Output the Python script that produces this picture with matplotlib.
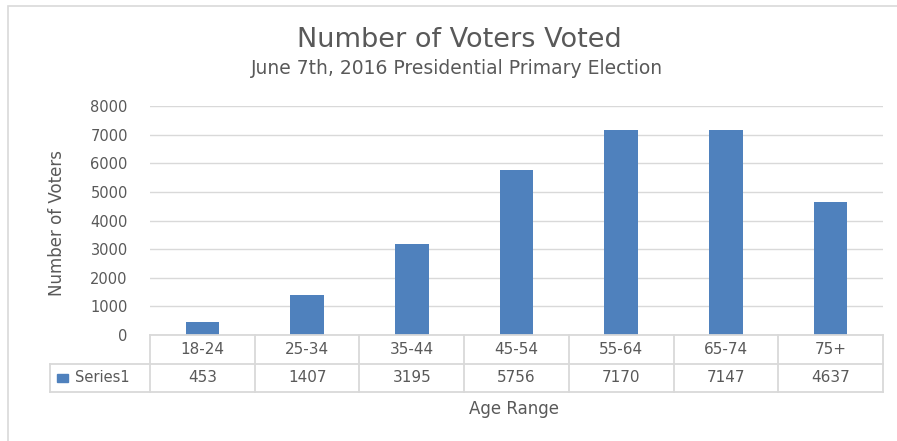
import matplotlib.pyplot as plt
from matplotlib.patches import Rectangle

categories = ['18-24', '25-34', '35-44', '45-54', '55-64', '65-74', '75+']
voters = [453, 1407, 3195, 5756, 7170, 7147, 4637]
yticks = [0, 1000, 2000, 3000, 4000, 5000, 6000, 7000, 8000]
series_name = 'Series1'

W, H = 897, 441
bar_color = '#4F81BD'
grid_color = '#D9D9D9'
text_color = '#595959'

fig = plt.figure(figsize=(W / 100, H / 100), dpi=100)

# chart border
fig.patches.append(Rectangle((8 / W, -0.1), 1.2, 1 - 6 / H + 0.1, transform=fig.transFigure,
                             fill=False, edgecolor=grid_color, lw=1.2))

# plot area in pixel coords
px_left, px_right, px_top, px_bottom = 150, 883, 106, 335
ax = fig.add_axes([px_left / W, 1 - px_bottom / H, (px_right - px_left) / W, (px_bottom - px_top) / H])
x = list(range(len(categories)))
ax.bar(x, voters, width=0.32, color=bar_color, zorder=3)
ax.set_xlim(-0.5, len(categories) - 0.5)
ax.set_ylim(0, 8000)
ax.set_yticks(yticks)
ax.set_yticklabels([str(t) for t in yticks], fontsize=10.5, color=text_color)
ax.tick_params(axis='y', length=0, pad=16)
ax.set_xticks([])
ax.grid(axis='y', color=grid_color, lw=1, zorder=0)
for s in ax.spines.values():
    s.set_visible(False)
ax.set_ylabel('Number of Voters', fontsize=12, color=text_color)
ax.yaxis.set_label_coords((66 - px_left) / (px_right - px_left), 0.49)

# data table
cat_w = (px_right - px_left) / len(categories)
tbl_left, tbl_top, tbl_bottom = 50, 335, 392
tax = fig.add_axes([tbl_left / W, 1 - tbl_bottom / H, (px_right - tbl_left) / W, (tbl_bottom - tbl_top) / H])
x0 = -0.5 - (px_left - tbl_left) / cat_w
tax.set_xlim(x0, len(categories) - 0.5)
tax.set_ylim(0, 2)
tax.axis('off')
lw = 1.3
tax.plot([-0.5, len(categories) - 0.5], [2, 2], color=grid_color, lw=lw, clip_on=False)
tax.plot([x0, len(categories) - 0.5], [1, 1], color=grid_color, lw=lw, clip_on=False)
tax.plot([x0, len(categories) - 0.5], [0, 0], color=grid_color, lw=lw, clip_on=False)
tax.plot([x0, x0], [0, 1], color=grid_color, lw=lw, clip_on=False)
for i in range(len(categories) + 1):
    tax.plot([i - 0.5, i - 0.5], [0, 2], color=grid_color, lw=lw, clip_on=False)
for i, (c, v) in enumerate(zip(categories, voters)):
    tax.text(i, 1.5, c, ha='center', va='center', fontsize=11, color=text_color)
    tax.text(i, 0.5, str(v), ha='center', va='center', fontsize=11, color=text_color)
tax.add_patch(Rectangle((x0 + 0.07, 0.36), 0.1, 0.28, color=bar_color, clip_on=False))
tax.text(x0 + 0.24, 0.5, series_name, ha='left', va='center', fontsize=10.5, color=text_color)

fig.text(514 / W, 1 - 409 / H, 'Age Range', ha='center', va='center', fontsize=12, color=text_color)
fig.text(459 / W, 1 - 40 / H, 'Number of Voters Voted', ha='center', va='center',
         fontsize=19.5, color=text_color)
fig.text(457 / W, 1 - 69 / H, 'June 7th, 2016 Presidential Primary Election', ha='center', va='center',
         fontsize=13.5, color=text_color)

fig.savefig('out.png', dpi=100)
